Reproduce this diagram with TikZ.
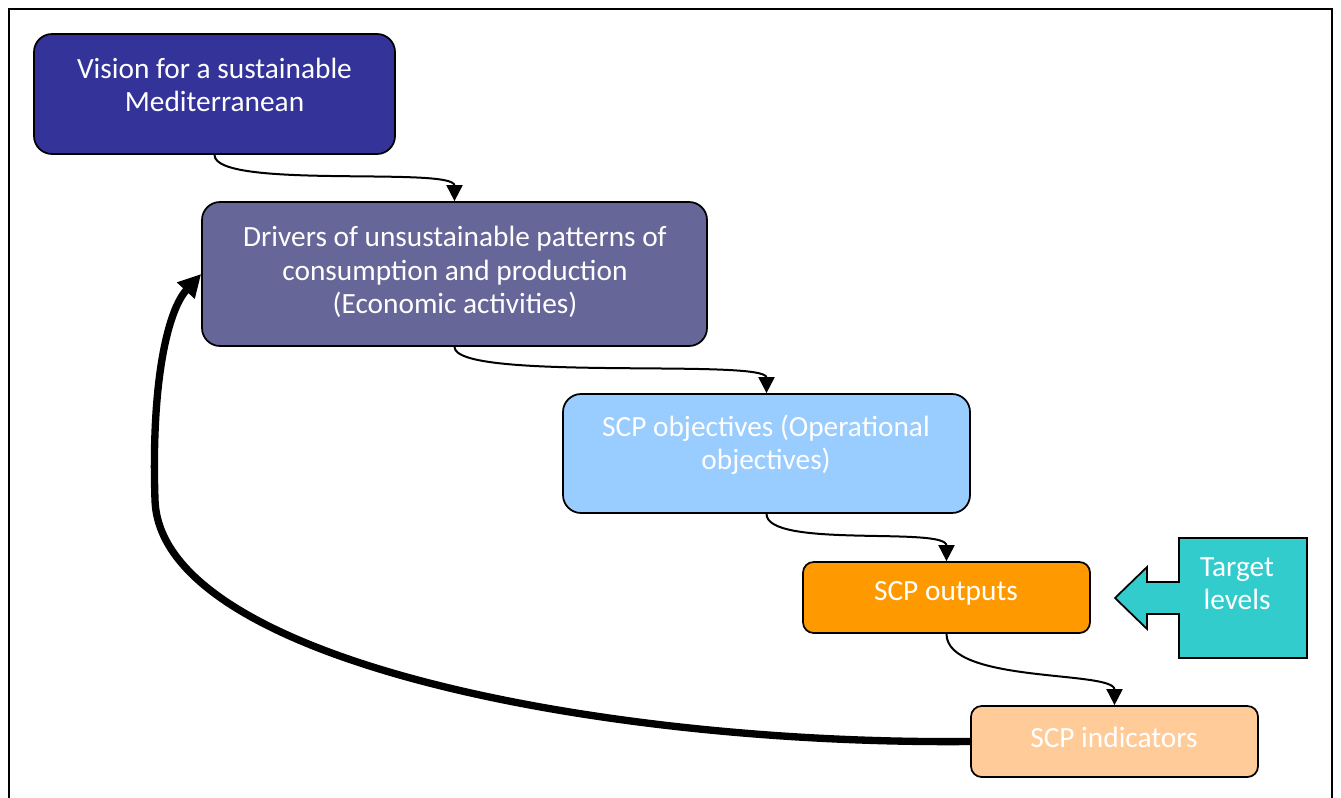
\documentclass[tikz,border=0pt]{standalone}
\usepackage{fontspec}
\setmainfont{Carlito}
\usetikzlibrary{arrows.meta}
\definecolor{cvision}{HTML}{333399}
\definecolor{cdrivers}{HTML}{666699}
\definecolor{cobj}{HTML}{99CCFF}
\definecolor{cout}{HTML}{FF9900}
\definecolor{cind}{HTML}{FFCC99}
\definecolor{ctarget}{HTML}{33CCCC}
\tikzset{
  box/.style={draw=black, line width=1.3pt, rounded corners=13.5pt, inner sep=0pt},
  smallbox/.style={box, rounded corners=8pt},
  lbl/.style={text=white, align=center, font=\fontsize{22pt}{25pt}\selectfont, inner sep=0pt},
  conn/.style={line width=1.5pt, -{Triangle[length=12pt,width=12pt]}},
  back/.style={line width=5.5pt, -{Triangle[length=17pt,width=17pt]}},
}
\begin{document}
\begin{tikzpicture}[x=0.75pt, y=-0.75pt]
\useasboundingbox (0,0) rectangle (1341,798);
% frame
\draw[line width=1.5pt] (9,805) -- (9,9) -- (1332,9) -- (1332,805);
% boxes
\node[box, fill=cvision, minimum width=270.75pt, minimum height=90pt] (vision) at (214.5,94) {};
\node[box, fill=cdrivers, minimum width=378.75pt, minimum height=108pt] (drivers) at (454.5,274) {};
\node[box, fill=cobj, minimum width=305.25pt, minimum height=89.25pt] (obj) at (766.5,453.5) {};
\node[smallbox, fill=cout, minimum width=215.25pt, minimum height=53.25pt] (out) at (946.5,597.5) {};
\node[smallbox, fill=cind, minimum width=215.25pt, minimum height=53.25pt] (ind) at (1114.5,741.5) {};
% target levels block arrow
\draw[line width=1.3pt, fill=ctarget] (1179,538) -- (1307,538) -- (1307,658) -- (1179,658) -- (1179,614) -- (1147,614) -- (1147,629) -- (1115,598) -- (1147,567) -- (1147,582) -- (1179,582) -- cycle;
% labels
\node[lbl] (tvision) at (214.5,85) {Vision for a sustainable\\Mediterranean};
\node[lbl] (tdrivers) at (455,272) {Drivers of unsustainable patterns of\\consumption and production\\(Economic activities)};
\node[lbl] (tobj) at (766,445) {SCP objectives (Operational\\objectives)};
\node[lbl] (tout) at (946,593) {SCP outputs};
\node[lbl] (ttarget) at (1237,584) {Target\\levels};
\node[lbl] (tind) at (1114,737) {SCP indicators};
% connectors
\draw[conn] (vision.south) .. controls +(0,35) and +(0,-35) .. (drivers.north);
\draw[conn] (drivers.south) .. controls +(0,35) and +(0,-35) .. (obj.north);
\draw[conn] (obj.south) .. controls +(0,35) and +(0,-35) .. (out.north);
\draw[conn] (out.south) .. controls +(0,50) and +(0,-35) .. (ind.north);
\coordinate (bend) at (155,500);
\draw[back] (ind.west) .. controls (600,745) and (160,660) .. (bend) .. controls (151,380) and (168,310) .. (drivers.west);
\end{tikzpicture}
\end{document}
